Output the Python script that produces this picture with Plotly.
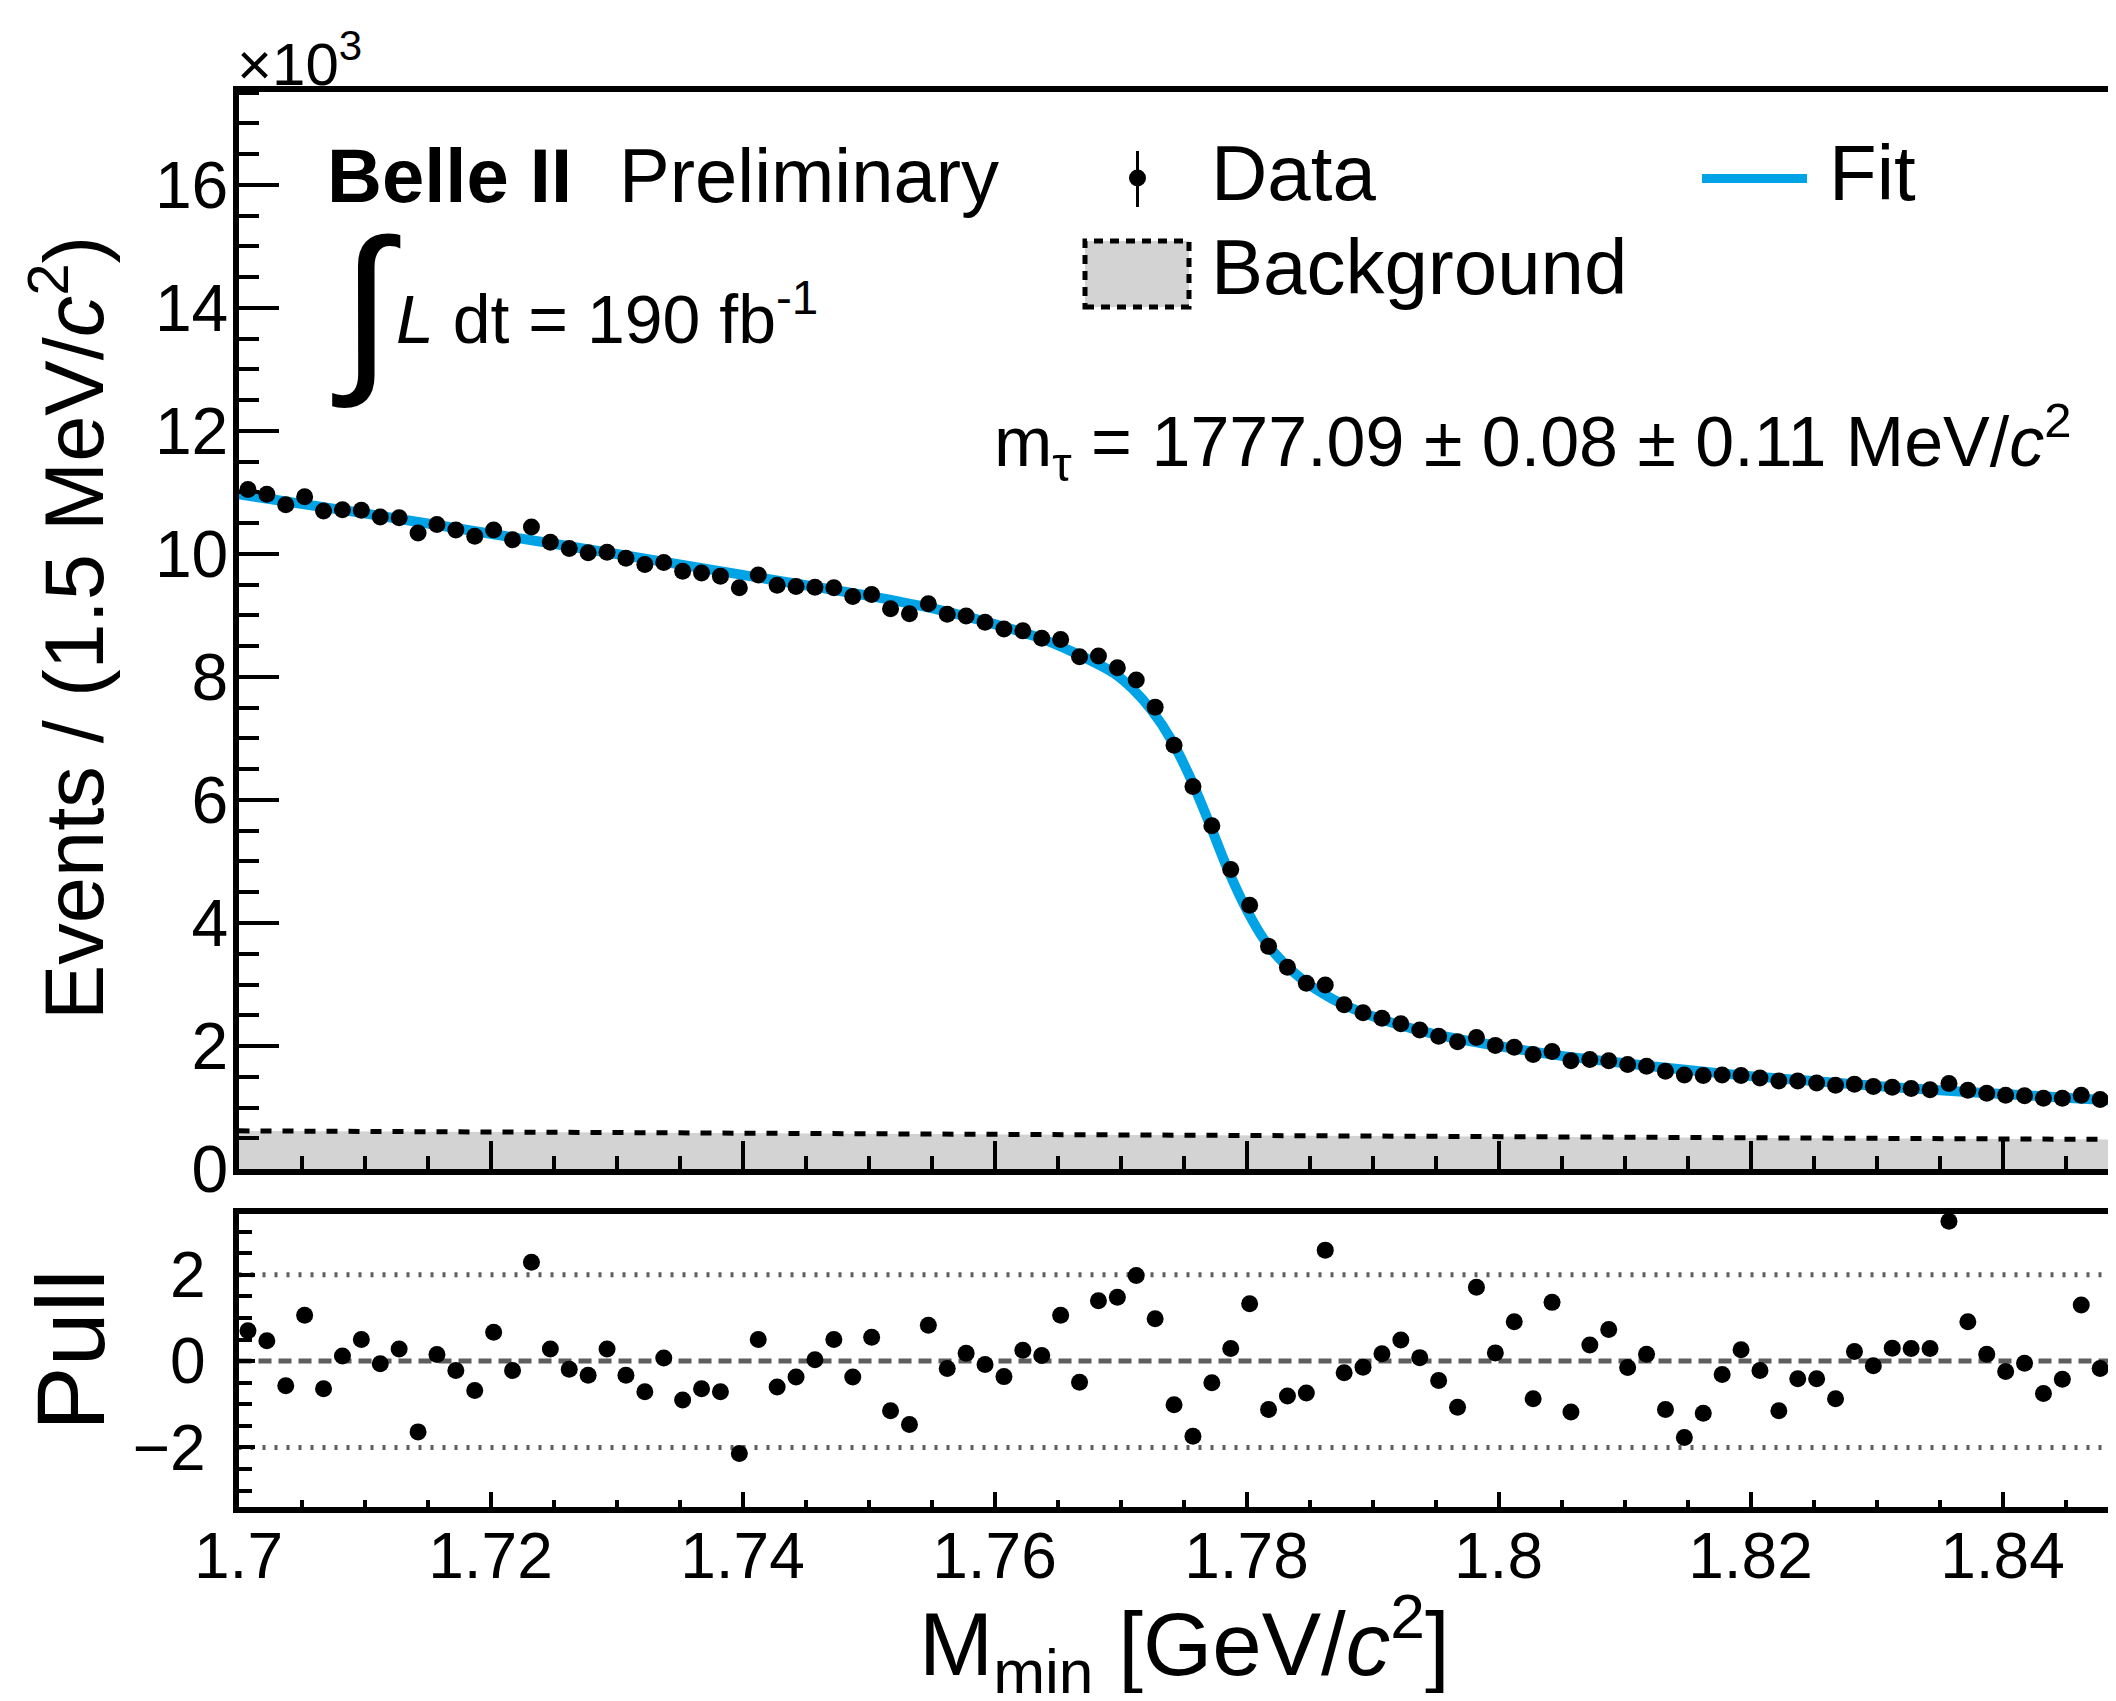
import plotly.graph_objects as go

# The page body keeps an 8 px margin, so the figure is drawn 8 px in from the
# window corner; all layout positions below are given in window pixels.
WIN_W, WIN_H = 2116, 1701
OFF = 8
W, H = WIN_W - OFF, WIN_H - 2 * OFF

# ---------------- data ----------------
bin_low = 1.700          # GeV/c^2
bin_width = 0.0015       # 1.5 MeV/c^2
n_bins = 100
m_min = [round(bin_low + bin_width * (i + 0.5), 5) for i in range(n_bins)]

# events per bin, in units of 10^3
events = [
    11.05, 10.97, 10.80, 10.93, 10.70, 10.72, 10.71, 10.60, 10.59, 10.34,
    10.48, 10.39, 10.29, 10.39, 10.23, 10.44, 10.19, 10.09, 10.02, 10.03,
    9.93, 9.83, 9.86, 9.72, 9.69, 9.64, 9.45, 9.66, 9.49, 9.47,
    9.46, 9.45, 9.31, 9.34, 9.11, 9.03, 9.19, 9.02, 8.99, 8.89,
    8.78, 8.75, 8.63, 8.61, 8.33, 8.34, 8.15, 7.95, 7.51, 6.89,
    6.22, 5.58, 4.87, 4.29, 3.62, 3.28, 3.02, 2.99, 2.67, 2.54,
    2.45, 2.36, 2.26, 2.16, 2.07, 2.14, 2.01, 1.98, 1.86, 1.91,
    1.76, 1.78, 1.76, 1.70, 1.67, 1.59, 1.53, 1.52, 1.53, 1.52,
    1.48, 1.43, 1.43, 1.40, 1.36, 1.38, 1.34, 1.33, 1.31, 1.29,
    1.39, 1.28, 1.23, 1.20, 1.19, 1.15, 1.15, 1.20, 1.13, 1.06,
]

pulls = [
    0.70, 0.47, -0.57, 1.06, -0.64, 0.12, 0.50, -0.06, 0.28, -1.64,
    0.15, -0.22, -0.68, 0.67, -0.22, 2.29, 0.28, -0.19, -0.33, 0.28,
    -0.33, -0.71, 0.07, -0.90, -0.64, -0.71, -2.14, 0.50, -0.60, -0.37,
    0.03, 0.50, -0.37, 0.55, -1.15, -1.47, 0.83, -0.17, 0.18, -0.08,
    -0.36, 0.25, 0.13, 1.06, -0.49, 1.40, 1.48, 1.98, 0.98, -1.01,
    -1.74, -0.50, 0.29, 1.33, -1.12, -0.81, -0.74, 2.57, -0.27, -0.14,
    0.17, 0.49, 0.08, -0.45, -1.07, 1.71, 0.19, 0.91, -0.87, 1.36,
    -1.18, 0.37, 0.73, -0.15, 0.16, -1.12, -1.77, -1.21, -0.31, 0.26,
    -0.22, -1.15, -0.41, -0.41, -0.87, 0.22, -0.11, 0.30, 0.29, 0.29,
    3.24, 0.91, 0.16, -0.24, -0.05, -0.75, -0.42, 1.30, -0.17, -1.61,
]

fit_x = [1.700, 1.710, 1.720, 1.730, 1.740, 1.750, 1.755, 1.760, 1.7635, 1.7665,
         1.7695, 1.7710, 1.7725, 1.7740, 1.7755, 1.7770, 1.7785, 1.7800, 1.7815, 1.7830,
         1.7845, 1.7860, 1.7875, 1.7890, 1.7920, 1.7950, 1.8000, 1.8050, 1.8100, 1.8150,
         1.8200, 1.8250, 1.8300, 1.8350, 1.8400, 1.8450, 1.8500]
fit_y = [10.97, 10.66, 10.33, 10.00, 9.66, 9.32, 9.12, 8.86, 8.64, 8.38,
         8.06, 7.80, 7.45, 6.99, 6.38, 5.65, 4.88, 4.22, 3.70, 3.34,
         3.07, 2.86, 2.69, 2.56, 2.35, 2.19, 2.00, 1.84, 1.72, 1.61,
         1.51, 1.43, 1.35, 1.28, 1.22, 1.16, 1.10]

bkg_x = [1.700, 1.710, 1.720, 1.730, 1.740, 1.750, 1.760, 1.770, 1.780, 1.790,
         1.800, 1.810, 1.820, 1.830, 1.840, 1.850]
bkg_y = [0.62, 0.61, 0.60, 0.59, 0.58, 0.57, 0.56, 0.54, 0.53, 0.52,
         0.51, 0.50, 0.50, 0.49, 0.48, 0.48]

x_ticks = [1.70, 1.72, 1.74, 1.76, 1.78, 1.80, 1.82, 1.84]
x_tick_text = ["1.7", "1.72", "1.74", "1.76", "1.78", "1.8", "1.82", "1.84"]

# ---------------- style ----------------
FONT = "Liberation Sans"
FIT_BLUE = "#00a3e6"
BKG_GRAY = "#d3d3d3"
REF_GRAY = "#5e5e5e"


def X(px):
    return (px - OFF) / W


def Y(py):
    return 1 - (py - OFF) / H


fig = go.Figure()

fig.add_trace(go.Scatter(
    x=bkg_x, y=bkg_y, xaxis="x", yaxis="y", mode="lines",
    fill="tozeroy", fillcolor=BKG_GRAY,
    line=dict(color="black", width=5, dash="11px,11px"),
    showlegend=False, hoverinfo="skip"))

fig.add_trace(go.Scatter(
    x=fit_x, y=fit_y, xaxis="x", yaxis="y", mode="lines",
    line=dict(color=FIT_BLUE, width=10, shape="spline", smoothing=0.8),
    showlegend=False, hoverinfo="skip"))

fig.add_trace(go.Scatter(
    x=m_min, y=events, xaxis="x", yaxis="y", mode="markers",
    marker=dict(color="black", size=17, line=dict(width=0)),
    showlegend=False, cliponaxis=False))

fig.add_trace(go.Scatter(
    x=m_min, y=pulls, xaxis="x2", yaxis="y2", mode="markers",
    marker=dict(color="black", size=17, line=dict(width=0)),
    showlegend=False, cliponaxis=False))

x_left = 238.5                      # window px of the x = 1.7 edge
x_max = 1.7 + (W + OFF - x_left) / 12600.0

common_x = dict(
    range=[1.7, x_max], showgrid=False, zeroline=False, automargin=False,
    showline=True, linecolor="black", linewidth=6, mirror=True,
    tickmode="array", tickvals=x_ticks, ticktext=x_tick_text,
    ticks="inside", tickcolor="black", tickwidth=4,
)

fig.update_layout(
    width=W, height=H,
    margin=dict(l=0, r=0, t=0, b=0, pad=0, autoexpand=False),
    paper_bgcolor="white", plot_bgcolor="white",
    font=dict(family=FONT, color="black", size=60),
    showlegend=False,
    xaxis=dict(
        domain=[X(x_left), 1], anchor="y", showticklabels=False, ticklen=28,
        minor=dict(dtick=0.005, tick0=1.7, ticklen=13, tickwidth=4,
                   ticks="inside", tickcolor="black"),
        **common_x),
    yaxis=dict(
        domain=[Y(1169), Y(91.5)], anchor="x", range=[0, 17.52],
        automargin=False,
        showgrid=False, zeroline=False, showline=True, linecolor="black",
        linewidth=6, mirror=False,
        tick0=0, dtick=2, ticks="inside", ticklen=40, tickwidth=4,
        tickcolor="black", tickfont=dict(size=66, family=FONT),
        ticklabelstandoff=-9,
        minor=dict(dtick=0.5, ticklen=20, tickwidth=4, ticks="inside",
                   tickcolor="black")),
    xaxis2=dict(
        domain=[X(x_left), 1], anchor="y2", matches="x", showticklabels=True,
        ticklen=15, tickfont=dict(size=64, family=FONT), ticklabelstandoff=-12,
        minor=dict(dtick=0.005, tick0=1.7, ticklen=7, tickwidth=4,
                   ticks="inside", tickcolor="black"),
        **common_x),
    yaxis2=dict(
        domain=[Y(1507), Y(1214.3)], anchor="x2", range=[-3.38, 3.40],
        automargin=False,
        showgrid=False, zeroline=False, showline=True, linecolor="black",
        linewidth=6, mirror=False,
        tickmode="array", tickvals=[-2, 0, 2], ticktext=["\u22122", "0", "2"],
        ticks="inside", ticklen=16, tickwidth=4, tickcolor="black",
        tickfont=dict(size=64, family=FONT), ticklabelstandoff=14,
        minor=dict(dtick=0.5, tick0=0, ticklen=13, tickwidth=4,
                   ticks="inside", tickcolor="black")),
)

shapes = []
# pull reference lines
for yv, dash in [(2, "3px,9px"), (-2, "3px,9px"), (0, "13px,7px")]:
    shapes.append(dict(type="line", xref="x2 domain", yref="y2", x0=0, x1=1,
                       y0=yv, y1=yv, layer="below",
                       line=dict(color=REF_GRAY, width=5, dash=dash)))
# legend glyphs
shapes.append(dict(type="line", xref="paper", yref="paper",
                   x0=X(1137.5), x1=X(1137.5), y0=Y(151), y1=Y(207),
                   line=dict(color="black", width=3)))
shapes.append(dict(type="circle", xref="paper", yref="paper",
                   x0=X(1129), x1=X(1146), y0=Y(169.5), y1=Y(186.5),
                   fillcolor="black", line=dict(color="black", width=0)))
shapes.append(dict(type="line", xref="paper", yref="paper",
                   x0=X(1702), x1=X(1807), y0=Y(178.5), y1=Y(178.5),
                   line=dict(color=FIT_BLUE, width=9)))
shapes.append(dict(type="rect", xref="paper", yref="paper",
                   x0=X(1085), x1=X(1189), y0=Y(307), y1=Y(241),
                   fillcolor=BKG_GRAY,
                   line=dict(color="black", width=5, dash="9px,7px")))
fig.update_layout(shapes=shapes)


def txt(text, x, y, size, xanchor="left", yanchor="middle", angle=0, **kw):
    fig.add_annotation(text=text, xref="paper", yref="paper", x=X(x), y=Y(y),
                       xanchor=xanchor, yanchor=yanchor, showarrow=False,
                       textangle=angle, borderpad=0,
                       font=dict(family=FONT, size=size, color="black", **kw))


txt("\u00d710<sup>3</sup>", 236, 60, 60)
txt("<b>Belle II</b>", 326, 176, 76)
txt("Preliminary", 618, 176, 76)
txt("\u222b", 366, 305, 184, xanchor="center")
txt("<i>L</i> dt = 190 fb<sup>-1</sup>", 395, 314, 68)
txt("m<sub>\u03c4</sub> = 1777.09 \u00b1 0.08 \u00b1 0.11 MeV/<i>c</i><sup>2</sup>",
    993, 442, 70)
txt("Data", 1210, 173, 78)
txt("Fit", 1828, 173, 78)
txt("Background", 1210, 267, 78)
txt("Events / (1.5 MeV/<i>c</i><sup>2</sup>)", 68, 628, 83, xanchor="center",
    angle=-90)
txt("Pull", 70, 1350, 97, xanchor="center", angle=-90)
txt("M<sub>min</sub> [GeV/<i>c</i><sup>2</sup>]", 1451, 1644, 89, xanchor="right")

fig.write_html("out.html")
